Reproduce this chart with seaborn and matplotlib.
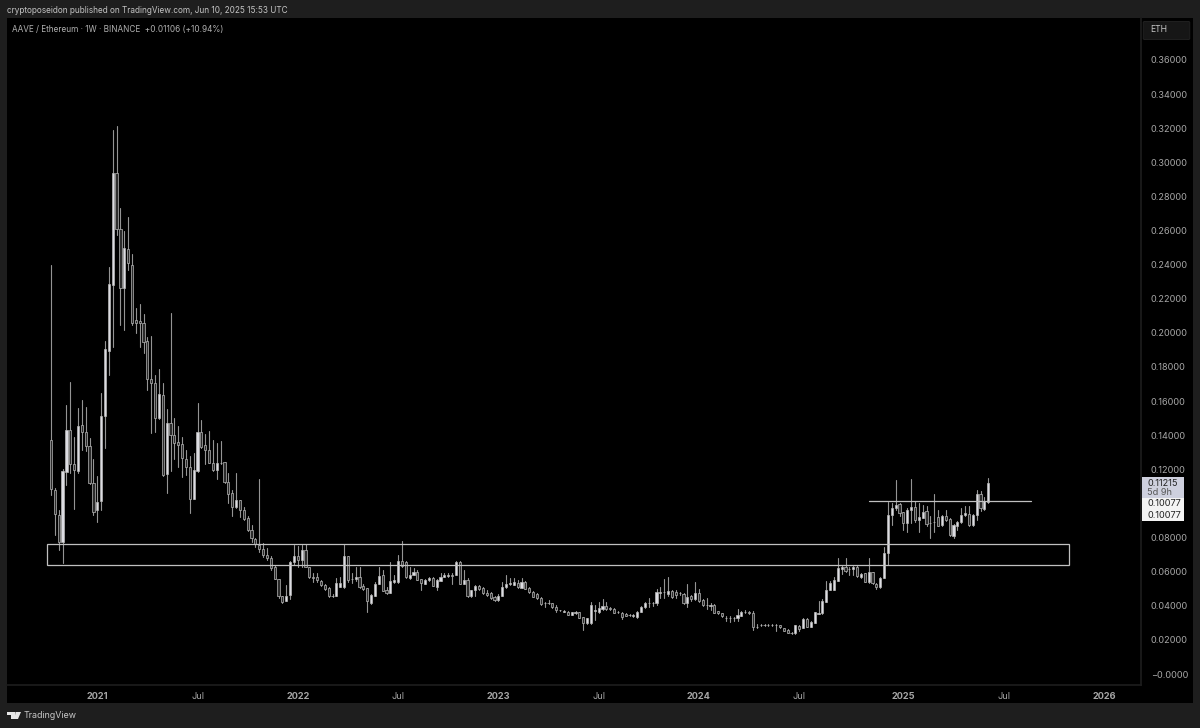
import matplotlib
matplotlib.use('Agg')
import matplotlib.pyplot as plt
import matplotlib.dates as mdates
from matplotlib.patches import Rectangle, FancyBboxPatch, Polygon
import pandas as pd
import seaborn as sns

opens = [
    .1372, .1079, .0932, .0774, .1184, .1430, .1231, .1190, .1460, .1419,
    .1337, .1120, .0962, .1014, .1513, .1894, .2280, .2937, .2609, .2263,
    .2492, .2398, .2075, .2070, .2058, .1952, .1730, .1706, .1501, .1636,
    .1173, .1472, .1401, .1360, .1349, .1261, .1214, .1026, .1190, .1419,
    .1343, .1313, .1237, .1196, .1237, .1243, .1126, .1061, .0979, .1020,
    .0962, .0915, .0844, .0791, .0756, .0733, .0700, .0678, .0625, .0555,
    .0457, .0430, .0463, .0655, .0692, .0668, .0727, .0625, .0570, .0567,
    .0547, .0522, .0502, .0459, .0457, .0512, .0512, .0692, .0555, .0555,
    .0571, .0516, .0502, .0418, .0459, .0528, .0581, .0492, .0477, .0541,
    .0538, .0664, .0659, .0561, .0581, .0596, .0555, .0528, .0551, .0565,
    .0512, .0547, .0571, .0575, .0581, .0581, .0655, .0528, .0551, .0457,
    .0492, .0516, .0502, .0477, .0473, .0453, .0434, .0459, .0512, .0526,
    .0522, .0532, .0506, .0541, .0506, .0483, .0467, .0447, .0416, .0414,
    .0414, .0395, .0375, .0365, .0365, .0346, .0356, .0361, .0332, .0297,
    .0297, .0369, .0361, .0379, .0401, .0385, .0381, .0361, .0360, .0350,
    .0346, .0342, .0332, .0365, .0391, .0418, .0414, .0414, .0477, .0478,
    .0469, .0489, .0483, .0477, .0469, .0418, .0459, .0438, .0477, .0434,
    .0405, .0401, .0405, .0369, .0356, .0328, .0328, .0326, .0326, .0342,
    .0361, .0362, .0356, .0278, .0285, .0288, .0287, .0287, .0288, .0287,
    .0268, .0258, .0240, .0238, .0283, .0272, .0323, .0278, .0301, .0354,
    .0356, .0424, .0493, .0493, .0547, .0616, .0625, .0616, .0614, .0625,
    .0571, .0590, .0537, .0596, .0528, .0508, .0565, .0707, .0932, .0971,
    .0995, .0948, .0883, .0961, .0981, .0903, .0917, .0958, .0885, .0889,
    .0922, .0874, .0926, .0907, .0811, .0870, .0889, .0930, .0936, .0874,
    .0932, .1055, .0967, .1010]
closes = [
    .1085, .0938, .0774, .1190, .1430, .1231, .1196, .1454, .1420, .1337,
    .1120, .0950, .1008, .1513, .1906, .2287, .2937, .2609, .2263, .2498,
    .2410, .2058, .2058, .2058, .1947, .1730, .1706, .1501, .1642, .1167,
    .1472, .1401, .1354, .1343, .1266, .1214, .1026, .1196, .1419, .1331,
    .1313, .1237, .1196, .1237, .1237, .1126, .1055, .0979, .1020, .0962,
    .0909, .0844, .0797, .0762, .0733, .0700, .0678, .0619, .0555, .0457,
    .0424, .0457, .0655, .0692, .0668, .0727, .0629, .0571, .0560, .0551,
    .0522, .0496, .0457, .0457, .0532, .0536, .0692, .0551, .0555, .0571,
    .0512, .0496, .0430, .0463, .0528, .0575, .0489, .0473, .0547, .0551,
    .0664, .0633, .0567, .0581, .0596, .0551, .0532, .0551, .0565, .0518,
    .0551, .0567, .0581, .0581, .0575, .0655, .0528, .0551, .0457, .0492,
    .0516, .0496, .0473, .0463, .0448, .0434, .0459, .0512, .0526, .0532,
    .0537, .0508, .0537, .0498, .0479, .0453, .0444, .0410, .0414, .0416,
    .0391, .0375, .0376, .0371, .0346, .0361, .0361, .0330, .0301, .0326,
    .0405, .0375, .0385, .0399, .0379, .0383, .0360, .0362, .0332, .0342,
    .0345, .0343, .0365, .0395, .0418, .0415, .0416, .0483, .0478, .0479,
    .0489, .0450, .0463, .0476, .0414, .0453, .0438, .0477, .0430, .0405,
    .0403, .0403, .0360, .0356, .0340, .0326, .0326, .0328, .0346, .0361,
    .0362, .0360, .0278, .0276, .0287, .0287, .0285, .0288, .0286, .0274,
    .0254, .0242, .0238, .0287, .0264, .0323, .0278, .0307, .0362, .0358,
    .0428, .0493, .0532, .0551, .0620, .0630, .0606, .0618, .0625, .0575,
    .0584, .0541, .0600, .0532, .0508, .0565, .0707, .0932, .0971, .0991,
    .0942, .0883, .0961, .0981, .0903, .0922, .0952, .0877, .0887, .0891,
    .0870, .0926, .0903, .0815, .0874, .0889, .0932, .0942, .0874, .0932,
    .1055, .0971, .1014, .1122]
highs = [
    .2398, .1090, .0960, .1200, .1577, .1710, .1390, .1560, .1606, .1565,
    .1384, .1260, .1160, .1648, .1950, .2386, .3190, .3213, .2732, .2597,
    .2680, .2462, .2146, .2169, .2111, .1976, .1982, .1753, .1788, .1706,
    .1554, .2117, .1501, .1454, .1390, .1313, .1278, .1296, .1589, .1489,
    .1407, .1425, .1372, .1354, .1366, .1243, .1178, .1079, .1178, .1020,
    .0979, .0926, .0874, .0797, .1143, .0768, .0737, .0690, .0640, .0555,
    .0460, .0522, .0664, .0755, .0752, .0756, .0760, .0625, .0590, .0590,
    .0551, .0525, .0510, .0470, .0560, .0570, .0760, .0692, .0590, .0630,
    .0625, .0525, .0505, .0470, .0540, .0625, .0610, .0510, .0655, .0580,
    .0695, .0780, .0662, .0625, .0620, .0610, .0558, .0558, .0568, .0570,
    .0555, .0590, .0595, .0590, .0595, .0665, .0665, .0610, .0560, .0495,
    .0520, .0522, .0510, .0490, .0480, .0460, .0470, .0537, .0580, .0561,
    .0561, .0551, .0561, .0545, .0510, .0485, .0472, .0450, .0420, .0434,
    .0418, .0405, .0378, .0375, .0368, .0365, .0372, .0365, .0336, .0330,
    .0424, .0405, .0424, .0438, .0420, .0395, .0385, .0368, .0362, .0355,
    .0350, .0350, .0368, .0398, .0422, .0444, .0420, .0500, .0512, .0555,
    .0570, .0495, .0490, .0482, .0472, .0526, .0465, .0537, .0500, .0440,
    .0444, .0415, .0410, .0372, .0360, .0340, .0340, .0335, .0379, .0372,
    .0375, .0372, .0368, .0295, .0295, .0292, .0292, .0295, .0293, .0290,
    .0272, .0262, .0245, .0290, .0290, .0326, .0328, .0310, .0365, .0430,
    .0440, .0545, .0545, .0571, .0682, .0640, .0682, .0630, .0635, .0640,
    .0590, .0595, .0682, .0600, .0535, .0570, .0745, .1010, .1000, .1137,
    .1005, .0950, .0975, .1141, .1014, .1001, .0990, .0985, .0925, .1055,
    .0960, .0930, .0961, .0915, .0880, .0895, .0971, .0985, .0985, .0940,
    .1079, .1075, .1040, .1147]
lows = [
    .1050, .0815, .0727, .0650, .1108, .1178, .0967, .1178, .1313, .1307,
    .1114, .0932, .0891, .0962, .1325, .1753, .1917, .2574, .2046, .2017,
    .2370, .2046, .2000, .1917, .1882, .1665, .1413, .1419, .1495, .1161,
    .1061, .1190, .1261, .1214, .1155, .1167, .0944, .1026, .1184, .1325,
    .1231, .1237, .1190, .1143, .1231, .1120, .1003, .0926, .0973, .0920,
    .0903, .0838, .0774, .0745, .0715, .0686, .0668, .0610, .0555, .0447,
    .0418, .0430, .0440, .0640, .0625, .0630, .0625, .0565, .0540, .0540,
    .0518, .0492, .0452, .0450, .0455, .0510, .0505, .0540, .0535, .0545,
    .0505, .0490, .0365, .0410, .0455, .0525, .0485, .0470, .0475, .0535,
    .0535, .0630, .0560, .0555, .0578, .0549, .0490, .0525, .0548, .0515,
    .0495, .0545, .0568, .0570, .0525, .0578, .0525, .0525, .0450, .0450,
    .0455, .0490, .0470, .0460, .0442, .0430, .0430, .0455, .0502, .0520,
    .0520, .0505, .0504, .0496, .0477, .0450, .0441, .0405, .0395, .0410,
    .0388, .0365, .0372, .0362, .0344, .0344, .0354, .0328, .0258, .0295,
    .0295, .0317, .0358, .0375, .0375, .0375, .0355, .0355, .0325, .0338,
    .0340, .0335, .0330, .0363, .0388, .0395, .0400, .0405, .0444, .0444,
    .0460, .0445, .0445, .0465, .0410, .0395, .0430, .0435, .0425, .0400,
    .0379, .0375, .0355, .0353, .0335, .0312, .0305, .0310, .0310, .0338,
    .0355, .0350, .0258, .0270, .0280, .0283, .0280, .0282, .0252, .0272,
    .0252, .0240, .0232, .0236, .0252, .0270, .0276, .0276, .0299, .0352,
    .0354, .0422, .0490, .0490, .0545, .0585, .0600, .0580, .0580, .0570,
    .0565, .0537, .0532, .0525, .0500, .0505, .0560, .0639, .0874, .0960,
    .0925, .0844, .0835, .0883, .0890, .0835, .0915, .0870, .0795, .0835,
    .0865, .0870, .0895, .0810, .0795, .0845, .0885, .0925, .0870, .0870,
    .0903, .0955, .0960, .1005]

first_week = '2020-10-12'
y_ticks = [0.36, 0.34, 0.32, 0.30, 0.28, 0.26, 0.24, 0.22, 0.20, 0.18, 0.16, 0.14, 0.12, 0.08, 0.06, 0.04, 0.02, 0.0]
y_labels = ['0.36000', '0.34000', '0.32000', '0.30000', '0.28000', '0.26000', '0.24000', '0.22000', '0.20000',
            '0.18000', '0.16000', '0.14000', '0.12000', '0.08000', '0.06000', '0.04000', '0.02000', '\u22120.0000']
x_tick_dates = ['2021-01-04', '2021-07-05', '2022-01-03', '2022-07-04', '2023-01-02', '2023-07-03',
                '2024-01-01', '2024-07-01', '2025-01-06', '2025-07-07', '2026-01-05']
x_tick_labels = ['2021', 'Jul', '2022', 'Jul', '2023', 'Jul', '2024', 'Jul', '2025', 'Jul', '2026']
zone_top, zone_bottom = 0.0760, 0.0639
zone_start, zone_end = '2020-10-05', '2025-11-03'
level = 0.1014
level_start, level_end = '2024-11-04', '2025-08-25'

W, H = 1200, 728
BG = '#1e1e1e'
TXT = '#a6a6a6'

sns.set_theme(style='dark', rc={'figure.facecolor': BG, 'axes.facecolor': 'black', 'axes.grid': False})
plt.rcParams['font.family'] = ['Inter', 'DejaVu Sans']

dates = pd.date_range(first_week, periods=len(opens), freq='7D')
wicks = pd.DataFrame({'date': list(dates) * 2, 'price': highs + lows, 'week': list(range(len(dates))) * 2})

fig = plt.figure(figsize=(W / 100, H / 100), dpi=100)


def px_box(x0, y0, x1, y1):
    return [x0 / W, 1 - y1 / H, (x1 - x0) / W, (y1 - y0) / H]


# black panel behind everything, chart axes sit on top of it
fig.add_artist(Rectangle((7 / W, 1 - 703 / H), 1186 / W, 685 / H, transform=fig.transFigure, fc='black', ec='none', zorder=-5))
ax = fig.add_axes(px_box(7, 18, 1141, 685))

sns.lineplot(data=wicks, x='date', y='price', units='week', estimator=None, color='#949494', lw=0.8, ax=ax, zorder=2)

up = [c >= o for o, c in zip(opens, closes)]
bottoms = [min(o, c) for o, c in zip(opens, closes)]
heights = [abs(o - c) for o, c in zip(opens, closes)]
ax.bar(dates, heights, bottom=bottoms, width=3.9,
       color=['#dcdce2' if u else '#2c2c2c' for u in up], edgecolor='#b8b8b8', linewidth=0.5, zorder=3)

# support zone and the level line
x0 = mdates.date2num(pd.Timestamp(zone_start))
x1 = mdates.date2num(pd.Timestamp(zone_end))
ax.add_patch(Rectangle((x0, zone_bottom), x1 - x0, zone_top - zone_bottom, fc='none', ec='#c0c0c0', lw=0.9, zorder=4))
ax.plot(pd.to_datetime([level_start, level_end]), [level, level], color='#c0c0c0', lw=0.9, zorder=4)

days_per_px = 7 / 3.857
start = mdates.date2num(pd.Timestamp(first_week))
ax.set_xlim(start + (7 - 51) * days_per_px, start + (1141 - 51) * days_per_px)
ax.set_ylim((674 - 685) / 1705.6, (674 - 18) / 1705.6)

ax.yaxis.tick_right()
ax.set_yticks(y_ticks)
ax.set_yticklabels(y_labels, fontsize=6.6, color=TXT)
ax.set_xticks(pd.to_datetime(x_tick_dates))
ax.set_xticklabels(x_tick_labels, fontsize=6.6, color=TXT)
for lab in ax.get_xticklabels():
    if lab.get_text() != 'Jul':
        lab.set_fontweight('bold')
ax.tick_params(axis='y', length=0, pad=7)
ax.tick_params(axis='x', length=0, pad=5)
ax.set_xlabel('')
ax.set_ylabel('')
for s in ['top', 'left']:
    ax.spines[s].set_visible(False)
ax.spines['right'].set_color('#1c1c1c')
ax.spines['bottom'].set_color('#1c1c1c')

fig.text(7 / W, 1 - 10.5 / H, 'cryptoposeidon published on TradingView.com, Jun 10, 2025 15:53 UTC',
         fontsize=5.9, color='#c4c4c4', va='center')
fig.text(12.5 / W, 1 - 29.5 / H, 'AAVE / Ethereum \u00b7 1W \u00b7 BINANCE  +0.01106 (+10.94%)',
         fontsize=5.9, color='#b0b0b0', va='center')

# ETH button
fig.add_artist(FancyBboxPatch((1145 / W, 1 - 38.5 / H), 43 / W, 16 / H, transform=fig.transFigure,
                              boxstyle='round,pad=0.0015', fc='#161616', ec='#242424', lw=0.6))
fig.text(1150 / W, 1 - 30 / H, 'ETH', fontsize=6.2, color='#c8c8c8', va='center')

# price tags on the scale
fig.add_artist(Rectangle((1142 / W, 1 - 498 / H), 42 / W, 21 / H, transform=fig.transFigure, fc='#ced0de', ec='none', zorder=5))
fig.add_artist(Rectangle((1142 / W, 1 - 521 / H), 42 / W, 23 / H, transform=fig.transFigure, fc='#f4f4f4', ec='none', zorder=5))
fig.text(1147 / W, 1 - 483 / H, '0.11215', fontsize=6.6, color='#222222', va='center', zorder=6)
fig.text(1147 / W, 1 - 492.5 / H, '5d 9h', fontsize=6.6, color='#555555', va='center', zorder=6)
fig.text(1147 / W, 1 - 504 / H, '0.10077', fontsize=6.6, color='#222222', va='center', zorder=6)
fig.text(1147 / W, 1 - 515.5 / H, '0.10077', fontsize=6.6, color='#222222', va='center', zorder=6)

# TradingView mark in the footer
logo = [[(7, 712), (15, 712), (15, 719), (11, 719), (11, 715), (7, 715)],
        [(15.5, 712), (21, 712), (18, 719), (14.5, 719)]]
for pts in logo:
    fig.add_artist(Polygon([(a / W, 1 - b / H) for a, b in pts], transform=fig.transFigure, fc='#e6e6e6', ec='none'))
fig.text(23.5 / W, 1 - 716 / H, 'TradingView', fontsize=6.4, color='#c8c8c8', va='center')

fig.savefig('out.png', dpi=100, facecolor=BG)
